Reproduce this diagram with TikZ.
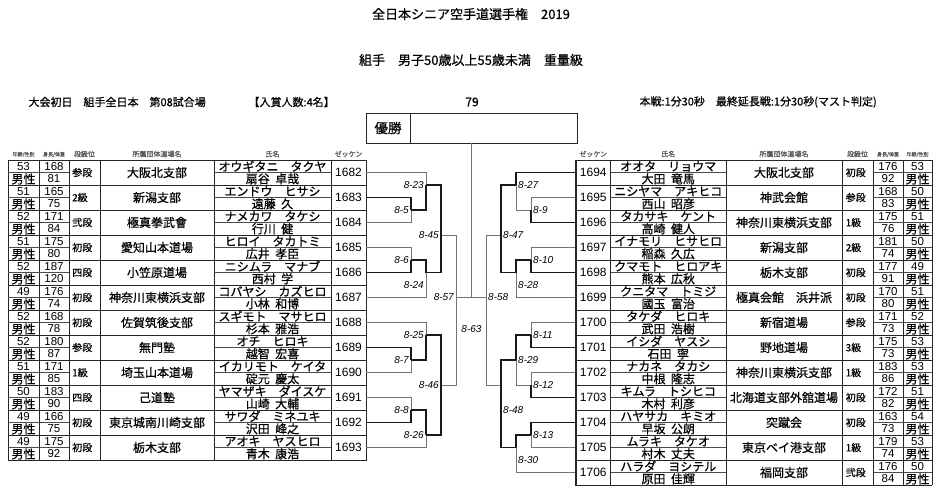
\documentclass[tikz,border=0pt]{standalone}
\usepackage{fontspec}
\setmainfont{Noto Sans CJK JP}[FakeBold=0.6]
\newfontfamily\ar{Liberation Sans}
\newcommand\fs[1]{\fontsize{#1}{#1}\selectfont}
\newcommand\hs{\hspace{0.45em}}
\begin{document}
\begin{tikzpicture}[x=1pt,y=-1pt,
 gridl/.style={line width=0.85pt, draw=black!85},
 midl/.style={line width=0.55pt, draw=black!70},
 thn/.style={line width=0.7pt, draw=black!55},
 thk/.style={line width=1.3pt, draw=black!90},
 zk/.style={draw=black!85, line width=0.85pt, minimum width=35pt, minimum height=25pt, inner sep=0pt, font=\ar\fs{12}},
 lbl/.style={font=\ar\itshape\fs{10}, inner sep=0pt},
 hd/.style={text=black!65, inner sep=0pt},
 num/.style={font=\ar\fs{11.5}, inner sep=0pt},
 jp/.style={inner sep=0pt}]
\fill[white] (0,0) rectangle (940,496);
\useasboundingbox (0,0) rectangle (940,496);

% titles
\node[font=\fs{13}] (title) at (471,14) {全日本シニア空手道選手権\hspace{1em}2019};
\node[font=\fs{13}] (sub) at (471,60) {組手\hspace{1em}男子50歳以上55歳未満\hspace{1em}重量級};
\node[font=\fs{11},anchor=west] (day) at (25,102) {大会初日\hspace{1em}組手全日本\hspace{1em}第08試合場};
\node[font=\fs{11},anchor=west] (prize) at (245,102) {【入賞人数:4名】};
\node[font=\fs{12}] (cnt) at (472,102) {79};
\node[font=\fs{11},anchor=west] (rule) at (636,102) {本戦:1分30秒\hspace{1em}最終延長戦:1分30秒(マスト判定)};

% champion box
\node[draw=black!85, line width=0.85pt, minimum width=211pt, minimum height=30pt, inner sep=0pt] (champ) at (471.5,128) {};
\draw[gridl] (410,113) -- (410,143);
\node[jp,font=\fs{13.5}] (yu) at (388,128) {優勝};

% headers
\node[hd,font=\fs{5}] (h1) at (23.5,154.5) {年齢/性別};
\node[hd,font=\fs{5}] (h2) at (54,154.5) {身長/体重};
\node[hd,font=\fs{7}] (h3) at (84.5,154) {段級位};
\node[hd,font=\fs{7}] (h4) at (157,154) {所属団体道場名};
\node[hd,font=\fs{7}] (h5) at (272.5,154) {氏名};
\node[hd,font=\fs{7}] (h6) at (348.5,154) {ゼッケン};
\node[hd,font=\fs{7}] (g6) at (593.25,154) {ゼッケン};
\node[hd,font=\fs{7}] (g5) at (668.25,154) {氏名};
\node[hd,font=\fs{7}] (g4) at (784,154) {所属団体道場名};
\node[hd,font=\fs{7}] (g3) at (857.5,154) {段級位};
\node[hd,font=\fs{5}] (g2) at (888,154.5) {身長/体重};
\node[hd,font=\fs{5}] (g1) at (917.5,154.5) {年齢/性別};

% left table grid
\foreach \k in {0,...,12} \draw[gridl] (8,{160+25*\k}) -- (366,{160+25*\k});
\foreach \xx in {8,39,69,100,214,331,366} \draw[gridl] (\xx,160) -- (\xx,460);
\foreach \k in {0,...,11} {
  \draw[midl] (8,{172.5+25*\k}) -- (69,{172.5+25*\k});
  \draw[midl] (214,{172.5+25*\k}) -- (331,{172.5+25*\k});
}
% right table grid
\foreach \k in {0,...,13} \draw[gridl] (576,{160+25*\k}) -- (932,{160+25*\k});
\foreach \xx in {576,610.5,726,842,873,903,932} \draw[gridl] (\xx,160) -- (\xx,485);
\foreach \k in {0,...,12} {
  \draw[midl] (610.5,{172.5+25*\k}) -- (726,{172.5+25*\k});
  \draw[midl] (873,{172.5+25*\k}) -- (932,{172.5+25*\k});
}

% left rows
\foreach \i/\Ag/\Hh/\Ww/\Dn/\Dj/\Ka/\Kj/\Nm in {
0/53/168/81/参段/大阪北支部/オウギタニ　タクヤ/扇谷\hs{}卓哉/1682,
1/51/165/75/2級/新潟支部/エンドウ　ヒサシ/遠藤\hs{}久/1683,
2/52/171/84/弐段/極真拳武會/ナメカワ　タケシ/行川\hs{}健/1684,
3/51/175/80/初段/愛知山本道場/ヒロイ　タカトミ/広井\hs{}孝臣/1685,
4/52/187/120/四段/小笠原道場/ニシムラ　マナブ/西村\hs{}学/1686,
5/49/176/74/初段/神奈川東横浜支部/コバヤシ　カズヒロ/小林\hs{}和博/1687,
6/52/168/78/初段/佐賀筑後支部/スギモト　マサヒロ/杉本\hs{}雅浩/1688,
7/52/180/87/参段/無門塾/オチ　ヒロキ/越智\hs{}宏喜/1689,
8/51/171/85/1級/埼玉山本道場/イカリモト　ケイタ/碇元\hs{}慶太/1690,
9/50/183/90/四段/己道塾/ヤマザキ　ダイスケ/山崎\hs{}大輔/1691,
10/49/166/75/初段/東京城南川崎支部/サワダ　ミネユキ/沢田\hs{}峰之/1692,
11/49/175/92/初段/栃木支部/アオキ　ヤスヒロ/青木\hs{}康浩/1693} {
  \node[num] (La\i) at (23.5,{166.5+25*\i}) {\Ag};
  \node[jp,font=\fs{12}] (Lg\i) at (23.5,{179+25*\i}) {男性};
  \node[num] (Lh\i) at (54,{166.5+25*\i}) {\Hh};
  \node[num] (Lw\i) at (54,{179+25*\i}) {\Ww};
  \node[jp,font=\fs{10},anchor=west] (Ld\i) at (72,{172.5+25*\i}) {\Dn};
  \node[jp,font=\fs{12}] (Lo\i) at (157,{172.5+25*\i}) {\Dj};
  \node[jp,font=\fs{12}] (Lk\i) at (272.5,{166.3+25*\i}) {\Ka};
  \node[jp,font=\fs{12}] (Lj\i) at (272.5,{178.8+25*\i}) {\Kj};
  \node[zk] (L\i) at (348.5,{172.5+25*\i}) {\Nm};
}

% right rows
\foreach \i/\Nm/\Ka/\Kj/\Dj/\Dn/\Hh/\Ww/\Ag in {
0/1694/オオタ　リョウマ/大田\hs{}竜馬/大阪北支部/初段/176/92/53,
1/1695/ニシヤマ　アキヒコ/西山\hs{}昭彦/神武会館/参段/168/83/50,
2/1696/タカサキ　ケント/高崎\hs{}健人/神奈川東横浜支部/1級/175/76/51,
3/1697/イナモリ　ヒサヒロ/稲森\hs{}久広/新潟支部/2級/181/74/50,
4/1698/クマモト　ヒロアキ/熊本\hs{}広秋/栃木支部/初段/177/91/49,
5/1699/クニタマ　トミジ/國玉\hs{}富治/極真会館　浜井派/初段/170/80/51,
6/1700/タケダ　ヒロキ/武田\hs{}浩樹/新宿道場/参段/171/73/52,
7/1701/イシダ　ヤスシ/石田\hs{}寧/野地道場/3級/175/73/53,
8/1702/ナカネ　タカシ/中根\hs{}隆志/神奈川東横浜支部/1級/183/86/53,
9/1703/キムラ　トシヒコ/木村\hs{}利彦/北海道支部外舘道場/初段/172/82/51,
10/1704/ハヤサカ　キミオ/早坂\hs{}公朗/突蹴会/初段/163/73/54,
11/1705/ムラキ　タケオ/村木\hs{}丈夫/東京ベイ港支部/1級/179/74/53,
12/1706/ハラダ　ヨシテル/原田\hs{}佳輝/福岡支部/弐段/176/84/50} {
  \node[zk] (R\i) at (593.25,{172.5+25*\i}) {\Nm};
  \node[jp,font=\fs{12}] (Rk\i) at (668.25,{166.3+25*\i}) {\Ka};
  \node[jp,font=\fs{12}] (Rj\i) at (668.25,{178.8+25*\i}) {\Kj};
  \node[jp,font=\fs{12}] (Ro\i) at (784,{172.5+25*\i}) {\Dj};
  \node[jp,font=\fs{10},anchor=west] (Rd\i) at (845.5,{172.5+25*\i}) {\Dn};
  \node[num] (Rh\i) at (888,{166.5+25*\i}) {\Hh};
  \node[num] (Rw\i) at (888,{179+25*\i}) {\Ww};
  \node[num] (Ra\i) at (917.5,{166.5+25*\i}) {\Ag};
  \node[jp,font=\fs{12}] (Rg\i) at (917.5,{179+25*\i}) {男性};
}

% match points
\coordinate (m5) at (411,210);
\coordinate (m6) at (411,260);
\coordinate (m7) at (411,360);
\coordinate (m8) at (411,410);
\coordinate (m23) at (426,185);
\coordinate (m24) at (426,272.5);
\coordinate (m25) at (426,335);
\coordinate (m26) at (426,435);
\coordinate (m45) at (441,235);
\coordinate (m46) at (441,385);
\coordinate (m57) at (456,297.5);
\coordinate (m63) at (471,297.5);
\coordinate (m58) at (486,297.5);
\coordinate (m47) at (501,235);
\coordinate (m48) at (501,385);
\coordinate (m27) at (516,185);
\coordinate (m28) at (516,272.5);
\coordinate (m29) at (516,360);
\coordinate (m30) at (516,447.5);
\coordinate (m9) at (531,210);
\coordinate (m10) at (531,260);
\coordinate (m11) at (531,335);
\coordinate (m12) at (531,385);
\coordinate (m13) at (531,435);

% thin connectors
\draw[thn] (L0.east) -| (m23);
\draw[thn] (L2.east) -| (m5);
\draw[thn] (L3.east) -| (m6);
\draw[thn] (L5.east) -| (m24);
\draw[thn] (L6.east) -| (m25);
\draw[thn] (L8.east) -| (m7);
\draw[thn] (L9.east) -| (m8);
\draw[thn] (L11.east) -| (m26);
\draw[thn] (m45) -| (m57);
\draw[thn] (m46) -| (m57);
\draw[thn] (m57) -- (m63);
\draw[thn] (m58) -- (m63);
\draw[thn] (m63) -- (m63 |- champ.south);
\draw[thn] (R1.west) -| (m9);
\draw[thn] (m9) -| (m27);
\draw[thn] (R3.west) -| (m10);
\draw[thn] (R5.west) -| (m28);
\draw[thn] (R6.west) -| (m11);
\draw[thn] (R8.west) -| (m12);
\draw[thn] (m12) -| (m29);
\draw[thn] (R11.west) -| (m13);
\draw[thn] (R12.west) -| (m30);
\draw[thn] (m47) -| (m58);
\draw[thn] (m48) -| (m58);

% thick (winner) connectors
\draw[thk] (L1.east) -| (m5);
\draw[thk] (m5) -| (m23);
\draw[thk] (m23) -| (m45);
\draw[thk] (L4.east) -| (m6);
\draw[thk] (m6) -| (m24);
\draw[thk] (m24) -| (m45);
\draw[thk] (L7.east) -| (m7);
\draw[thk] (m7) -| (m25);
\draw[thk] (m25) -| (m46);
\draw[thk] (L10.east) -| (m8);
\draw[thk] (m8) -| (m26);
\draw[thk] (m26) -| (m46);
\draw[thk] (R0.west) -| (m27);
\draw[thk] (R2.west) -| (m9);
\draw[thk] (m27) -| (m47);
\draw[thk] (R4.west) -| (m10);
\draw[thk] (m10) -| (m28);
\draw[thk] (m28) -| (m47);
\draw[thk] (R7.west) -| (m11);
\draw[thk] (m11) -| (m29);
\draw[thk] (R9.west) -| (m12);
\draw[thk] (m29) -| (m48);
\draw[thk] (R10.west) -| (m13);
\draw[thk] (m13) -| (m30);
\draw[thk] (m30) -| (m48);

% match labels
\node[lbl,anchor=east] (t23) at (424,185) {8-23};
\node[lbl,anchor=east] (t5) at (409,210) {8-5};
\node[lbl,anchor=east] (t45) at (439,235) {8-45};
\node[lbl,anchor=east] (t6) at (409,260) {8-6};
\node[lbl,anchor=east] (t24) at (424,285) {8-24};
\node[lbl,anchor=east] (t57) at (454,297.5) {8-57};
\node[lbl,anchor=east] (t25) at (424,335) {8-25};
\node[lbl,anchor=east] (t7) at (409,360) {8-7};
\node[lbl,anchor=east] (t46) at (439,385) {8-46};
\node[lbl,anchor=east] (t8) at (409,410) {8-8};
\node[lbl,anchor=east] (t26) at (424,435) {8-26};
\node[lbl] (t63) at (471.5,329) {8-63};
\node[lbl,anchor=west] (t27) at (518,185) {8-27};
\node[lbl,anchor=west] (t9) at (533,210) {8-9};
\node[lbl,anchor=west] (t47) at (503,235) {8-47};
\node[lbl,anchor=west] (t10) at (533,260) {8-10};
\node[lbl,anchor=west] (t28) at (518,285) {8-28};
\node[lbl,anchor=west] (t58) at (488,297.5) {8-58};
\node[lbl,anchor=west] (t11) at (533,335) {8-11};
\node[lbl,anchor=west] (t29) at (518,360) {8-29};
\node[lbl,anchor=west] (t12) at (533,385) {8-12};
\node[lbl,anchor=west] (t48) at (503,410) {8-48};
\node[lbl,anchor=west] (t13) at (533,435) {8-13};
\node[lbl,anchor=west] (t30) at (518,460) {8-30};
\end{tikzpicture}
\end{document}
